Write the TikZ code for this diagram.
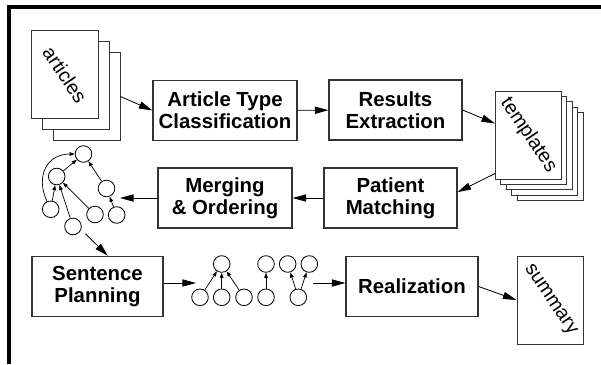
\documentclass[tikz,border=0pt]{standalone}
\usepackage{fontspec}
\setmainfont{Liberation Sans}
\usetikzlibrary{arrows.meta}
\definecolor{linec}{HTML}{333333}
\tikzset{
  stagebox/.style={draw=linec, line width=0.8pt, align=center, inner sep=2pt,
                   font=\fontsize{14.5}{15.5}\selectfont\bfseries, minimum height=1.5cm},
  docpage/.style={draw=linec, fill=white, line width=0.7pt, inner sep=0pt,
                  minimum width=1.65cm, minimum height=2.2cm},
  pagetxt/.style={font=\fontsize{14}{14}\selectfont, rotate=-56},
  tnode/.style={circle, draw=black, line width=0.6pt, minimum size=0.415cm, inner sep=0pt},
  arr/.style={-{Triangle[length=3.4mm,width=1.8mm]}, line width=0.6pt},
  tarr/.style={-{Triangle[length=1.3mm,width=0.9mm]}, line width=0.5pt},
}

\begin{document}
\begin{tikzpicture}[x=0.025cm, y=-0.025cm]
  \useasboundingbox (0,0) rectangle (601,364);
  % frame
  \draw[line width=2.2pt] (601,7) -- (9,7) -- (9,364);

  % input pages
  \foreach \k in {2,1} \node[docpage] (art\k) at (65+11*\k,74.5+11*\k) {};
  \node[docpage, label={[pagetxt]center:articles}] (art0) at (65,74.5) {};

  % first row
  \node[stagebox, minimum width=3.6cm] (atc) at (225,110.5) {Article Type\\Classification};
  \node[stagebox, minimum width=3.325cm] (rex) at (395.5,110) {Results\\Extraction};

  \foreach \k in {4,3,2,1} \node[docpage] (tpl\k) at (528.5+5.4*\k,135+5.4*\k) {};
  \node[docpage, label={[pagetxt]center:templates}] (tpl0) at (528.5,135) {};

  % second row
  \node[stagebox, minimum width=3.325cm] (pm) at (390.5,198) {Patient\\Matching};
  \node[stagebox, minimum width=3.35cm] (mo) at (225,198) {Merging\\\& Ordering};

  % merged tree
  \node[tnode] (tr) at (83.5,154) {};
  \node[tnode] (ta) at (56.7,176.5) {};
  \node[tnode] (tb) at (106.5,188.5) {};
  \node[tnode] (tc) at (50.7,209.3) {};
  \node[tnode] (td) at (73,226.5) {};
  \node[tnode] (te) at (95,214.5) {};
  \node[tnode] (tf) at (116.7,215) {};
  \coordinate (tin) at (120,198);
  \draw[tarr] (ta) -- (tr);
  \draw[tarr] (tb) -- (tr);
  \draw[tarr] (tf) -- (tb);
  \foreach \n in {tc,td,te} \draw[tarr] (\n) -- (ta);
  \draw[tarr] (tc) to[out=115, in=180, looseness=1.3] (tr);

  % third row
  \node[stagebox, minimum width=3.275cm] (sp) at (97.5,286.5) {Sentence\\Planning};
  \node[stagebox, minimum width=3.3cm] (rea) at (412,286.5) {Realization};
  \node[docpage, label={[pagetxt]center:summary}] (sum) at (550,300) {};

  % sentence trees
  \node[tnode] (ga) at (221.7,264) {};
  \foreach \i/\x in {1/200,2/221.7,3/244} {
    \node[tnode] (g\i) at (\x,297.3) {};
    \draw[tarr] (g\i) -- (ga);
  }
  \node[tnode] (hb) at (266,264) {};
  \node[tnode] (h1) at (266,297.3) {};
  \draw[tarr] (h1) -- (hb);
  \node[tnode] (ka) at (287.7,264) {};
  \node[tnode] (kb) at (309.3,264) {};
  \node[tnode] (k1) at (298.3,297.3) {};
  \draw[tarr] (k1) -- (ka);
  \draw[tarr] (k1) -- (kb);
  \coordinate (sin) at (196,283);
  \coordinate (sout) at (313,283);

  % pipeline arrows
  \draw[arr] (art2.east) -- (atc.west);
  \draw[arr] (atc) -- (rex);
  \draw[arr] (rex.east) -- (tpl0.161);
  \draw[arr] (tpl0.229) -- (pm.5);
  \draw[arr] (pm) -- (mo);
  \draw[arr] (mo.west) -- (tin);
  \draw[arr, shorten <=1.5mm] (td.-20) -- ([xshift=2.6mm]sp.north);
  \draw[arr] (sp.east |- sin) -- (sin);
  \draw[arr] (sout) -- (rea.west |- sout);
  \draw[arr] (rea.east) -- (sum.west);
\end{tikzpicture}
\end{document}
